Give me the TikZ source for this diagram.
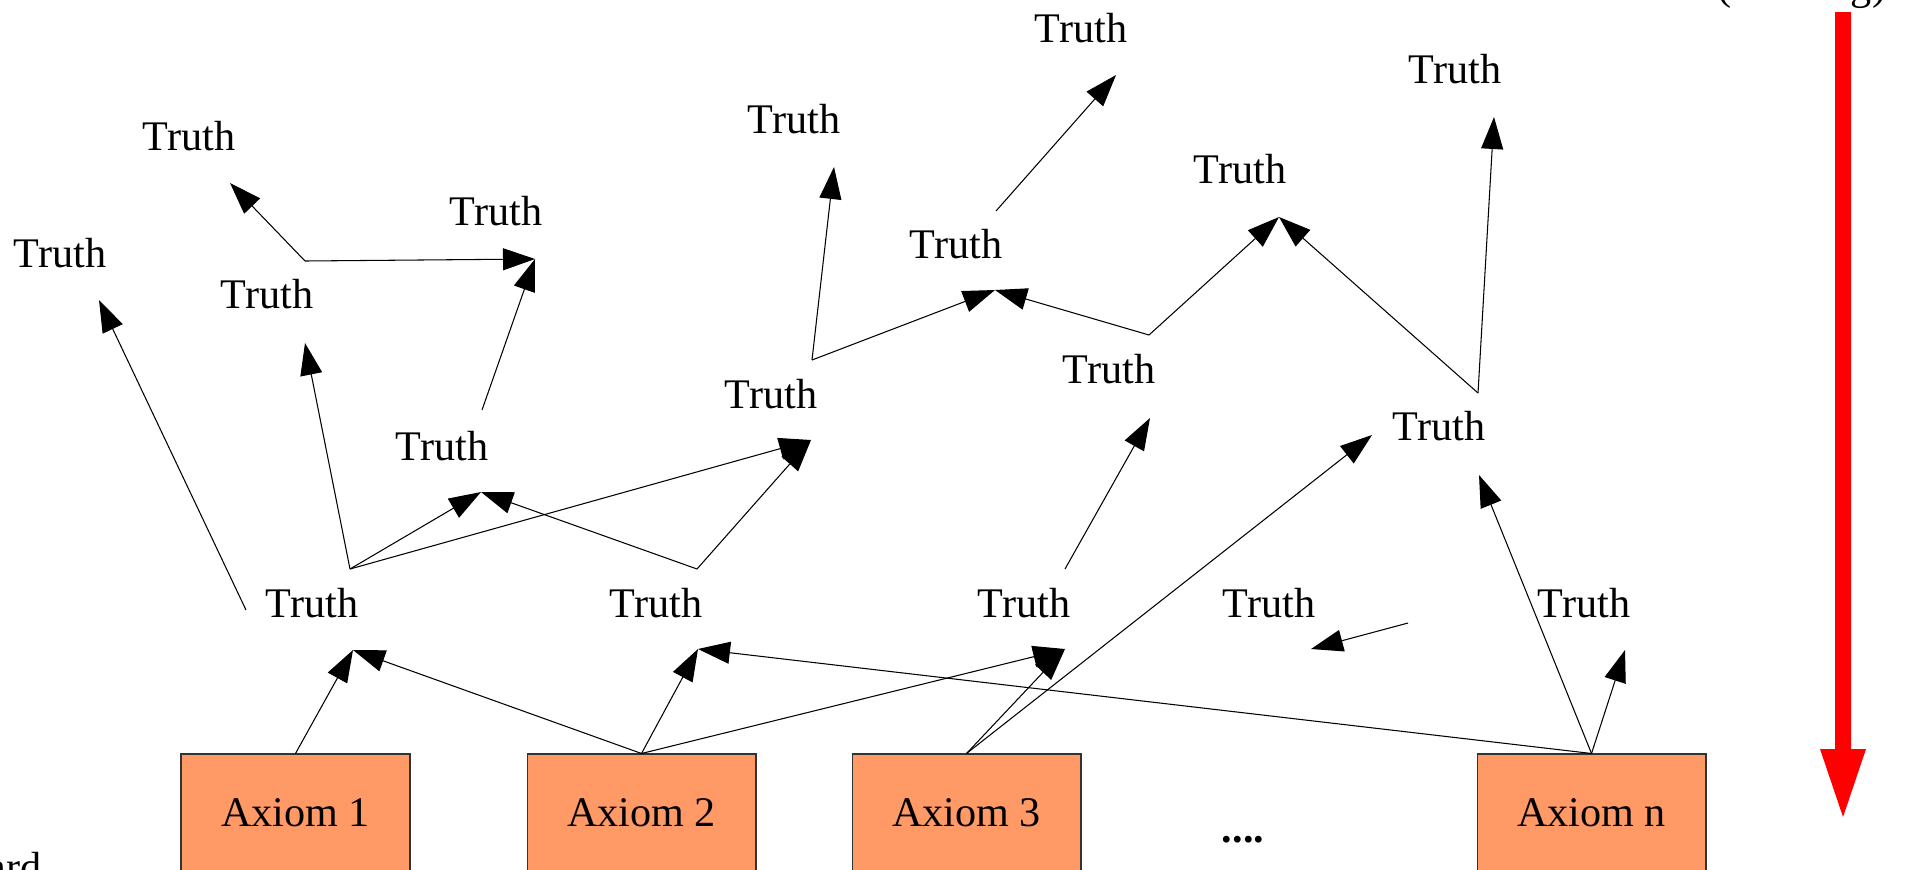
\documentclass[tikz,border=0pt]{standalone}
\usepackage{fontspec}
\setmainfont{Liberation Serif}
\usetikzlibrary{arrows.meta}
\definecolor{axfill}{RGB}{255,153,102}
\definecolor{arrred}{RGB}{255,0,0}
\begin{document}
\begin{tikzpicture}[x=0.02cm,y=-0.02cm,
  lbl/.style={font=\fontsize{24}{28}\selectfont, inner sep=0pt, anchor=base},
  axbox/.style={draw=black!80, fill=axfill, line width=0.6pt, inner sep=0pt,
    minimum width=4.58cm, minimum height=2.36cm, font=\fontsize{24}{28}\selectfont},
  arr/.style={-{Triangle[length=0.64cm,width=0.44cm]}, line width=0.6pt, draw=black},
]
\useasboundingbox (0,0) rectangle (1905,869);
\clip (0,0) rectangle (1905,869);

% partially visible captions
\node[lbl, anchor=base west] (cap) at (1717,-1) {(thinking)};
\node[lbl, anchor=base east] (fw) at (42,881) {Forward};

% red direction arrow
\fill[arrred] (1835,12) -- (1851,12) -- (1851,749) -- (1866,749) -- (1843,817)
  -- (1820,749) -- (1835,749) -- cycle;

% axioms
\node[axbox] (ax1) at (295.5,813) {Axiom 1};
\node[axbox] (ax2) at (641.5,813) {Axiom 2};
\node[axbox] (ax3) at (966.5,813) {Axiom 3};
\node[axbox] (axn) at (1591.5,813) {Axiom n};
\node[lbl, font=\fontsize{24}{28}\selectfont\bfseries] (dots) at (1243,842) {....};

% truths
\node[lbl] (Ta) at (189,150) {Truth};
\node[lbl] (Tb) at (496,225) {Truth};
\node[lbl] (Tc) at (60,267) {Truth};
\node[lbl] (Td) at (267,308) {Truth};
\node[lbl] (Tg) at (794,133) {Truth};
\node[lbl] (Th) at (771,408) {Truth};
\node[lbl] (Ti) at (442,460) {Truth};
\node[lbl] (Te) at (312,617) {Truth};
\node[lbl] (Tf) at (656,617) {Truth};
\node[lbl] (Tj) at (1024,617) {Truth};
\node[lbl] (Tk) at (1269,617) {Truth};
\node[lbl] (Tl) at (1584,617) {Truth};
\node[lbl] (Tm) at (1081,42) {Truth};
\node[lbl] (Tn) at (1455,83) {Truth};
\node[lbl] (To) at (1240,183) {Truth};
\node[lbl] (Tp) at (956,258) {Truth};
\node[lbl] (Tq) at (1109,383) {Truth};
\node[lbl] (Tr) at (1439,440) {Truth};

% connector ports
\coordinate (Te-w) at (246,610);
\coordinate (Te-ne) at (350,569);
\coordinate (Tf-ne) at (697,569);
\coordinate (Td-ne) at (305,261);
\coordinate (Ti-ne) at (482,410);
\coordinate (Th-ne) at (812,360);
\coordinate (Tq-ne) at (1149,335);
\coordinate (Tr-ne) at (1478,393);
\coordinate (Tp-ne) at (996,211);
\coordinate (Tj-ne) at (1065,569);
\coordinate (Tk-e) at (1408,623);

\coordinate (Tc-in) at (99,300);
\coordinate (Td-in) at (305,343);
\coordinate (Ti-in) at (481,492);
\coordinate (Th-in) at (811,440);
\coordinate (Ta-in) at (230,183);
\coordinate (Tb-in) at (535,259);
\coordinate (Tg-in) at (834,167);
\coordinate (Tp-in) at (995,290);
\coordinate (To-in) at (1279,217);
\coordinate (Tn-in) at (1494,117);
\coordinate (Tm-in) at (1116,75);
\coordinate (Tq-in) at (1150,418);
\coordinate (Te-in) at (353,650);
\coordinate (Tf-in) at (698,649);
\coordinate (Tj-in) at (1065,649);
\coordinate (Tr-inl) at (1372,435);
\coordinate (Tr-inb) at (1479,475);
\coordinate (Tl-in) at (1625,650);
\coordinate (Tk-in) at (1311,649);

% connectors
\draw[arr] (Te-w) -- (Tc-in);
\draw[arr] (Te-ne) -- (Td-in);
\draw[arr] (Te-ne) -- (Ti-in);
\draw[arr] (Te-ne) -- (Th-in);
\draw[arr] (Tf-ne) -- (Ti-in);
\draw[arr] (Tf-ne) -- (Th-in);
\draw[arr] (Td-ne) -- (Ta-in);
\draw[arr] (Td-ne) -- (Tb-in);
\draw[arr] (Ti-ne) -- (Tb-in);
\draw[arr] (Th-ne) -- (Tg-in);
\draw[arr] (Th-ne) -- (Tp-in);
\draw[arr] (Tq-ne) -- (Tp-in);
\draw[arr] (Tq-ne) -- (To-in);
\draw[arr] (Tr-ne) -- (To-in);
\draw[arr] (Tr-ne) -- (Tn-in);
\draw[arr] (Tp-ne) -- (Tm-in);
\draw[arr] (Tj-ne) -- (Tq-in);
\draw[arr] (ax1.north) -- (Te-in);
\draw[arr] (ax2.north) -- (Te-in);
\draw[arr] (ax2.north) -- (Tf-in);
\draw[arr] (ax2.north) -- (Tj-in);
\draw[arr] (ax3.north) -- (Tj-in);
\draw[arr] (ax3.north) -- (Tr-inl);
\draw[arr] (axn.north) -- (Tf-in);
\draw[arr] (axn.north) -- (Tr-inb);
\draw[arr] (axn.north) -- (Tl-in);
\draw[arr] (Tk-e) -- (Tk-in);
\end{tikzpicture}
\end{document}
